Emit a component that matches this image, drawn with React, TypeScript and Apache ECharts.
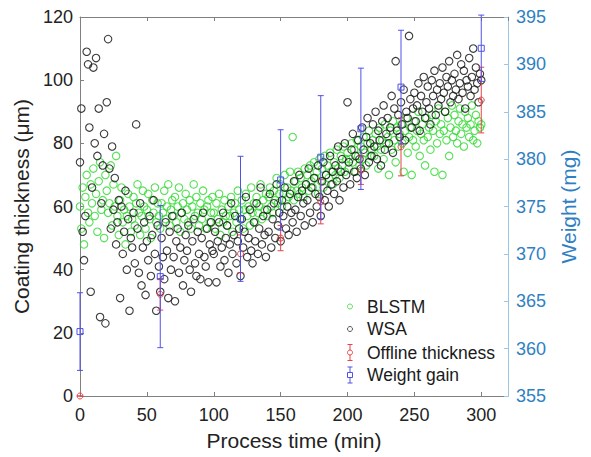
import React, { useEffect, useRef } from "react";
import * as echarts from "echarts";

// BLSTM predicted coating thickness (µm), one point per minute, t = 0..300
const blstmY: number[] = [
  60, 53, 66, 48, 63, 70, 58, 55, 67, 61,
  72, 57, 64, 52, 68, 74, 59, 62, 50, 70,
  65, 58, 61, 73, 54, 67, 60, 76, 57, 51,
  62, 66, 55, 59, 48, 57, 64, 60, 52, 56,
  63, 54, 61, 67, 58, 51, 57, 65, 60, 53,
  59, 64, 56, 50, 62, 58, 66, 55, 61, 57,
  53, 61, 58, 65, 56, 60, 67, 54, 59, 62,
  57, 63, 55, 60, 66, 52, 58, 61, 56, 64,
  59, 55, 62, 53, 60, 67, 57, 63, 58, 54,
  61, 56, 65, 59, 53, 60, 62, 55, 58, 63,
  58, 53, 61, 56, 64, 51, 59, 55, 62, 57,
  54, 60, 57, 63, 52, 58, 61, 55, 65, 59,
  56, 62, 53, 59, 64, 57, 60, 54, 66, 58,
  61, 55, 63, 58, 60, 67, 56, 62, 59, 64,
  57, 63, 66, 60, 58, 65, 62, 69, 61, 64,
  67, 60, 64, 70, 62, 66, 63, 71, 65, 82,
  62, 68, 65, 71, 64, 69, 66, 63, 72, 67,
  70, 65, 73, 68, 66, 74, 69, 71, 64, 75,
  68, 72, 66, 76, 70, 73, 69, 77, 71, 67,
  74, 70, 78, 72, 69, 76, 73, 79, 71, 75,
  77, 72, 75, 80, 74, 78, 71, 81, 76, 73,
  79, 75, 82, 77, 73, 80, 84, 76, 78, 81,
  76, 83, 79, 72, 85, 78, 81, 75, 86, 80,
  82, 70, 84, 78, 87, 81, 74, 85, 79, 83,
  86, 80, 71, 84, 88, 77, 82, 85, 70, 81,
  87, 79, 84, 90, 76, 83, 86, 81, 73, 88,
  82, 85, 78, 89, 84, 71, 87, 80, 91, 83,
  86, 70, 84, 90, 81, 88, 76, 85, 92, 82,
  89, 84, 80, 87, 91, 83, 86, 79, 90, 85,
  88, 82, 86, 92, 81, 84, 89, 80, 87, 85,
  86,
];

// WSA predicted coating thickness (µm), one point per minute, t = 0..300
const wsaY: number[] = [
  74, 91, 52, 43, 57, 109, 105, 85, 33, 66,
  104, 80, 107, 76, 91, 25, 61, 73, 83, 23,
  93, 113, 72, 53, 79, 59, 69, 48, 55, 62,
  31, 60, 45, 52, 65, 40, 56, 27, 50, 47,
  58, 42, 86, 53, 39, 61, 35, 47, 55, 32,
  49, 43, 57, 38, 51, 62, 45, 27, 54, 41,
  33, 50, 44, 37, 55, 46, 31, 52, 40, 57,
  44, 30, 49, 53, 39, 47, 58, 35, 43, 51,
  46, 54, 40, 33, 49, 56, 42, 38, 52, 45,
  37, 50, 58, 44, 41, 53, 36, 48, 55, 46,
  45, 52, 36, 49, 55, 41, 47, 58, 43, 50,
  54, 39, 48, 61, 45, 51, 57, 42, 49, 53,
  38, 56, 47, 52, 63, 44, 50, 59, 46, 42,
  55, 49, 61, 45, 53, 66, 48, 57, 51, 44,
  59, 52, 64, 47, 56, 61, 50, 67, 54, 58,
  49, 62, 57, 66, 53, 60, 51, 64, 58, 55,
  68, 59, 52, 63, 70, 57, 65, 61, 54, 67,
  62, 72, 58, 66, 55, 69, 64, 60, 73, 63,
  57, 68, 74, 62, 70, 65, 60, 76, 67, 71,
  64, 73, 68, 79, 62, 71, 75, 66, 80, 70,
  93, 74, 67, 78, 83, 71, 76, 69, 81, 75,
  72, 85, 78, 70, 82, 88, 74, 80, 76, 86,
  79, 90, 75, 84, 81, 73, 87, 92, 78, 83,
  88, 80, 85, 95, 77, 91, 106, 84, 89, 82,
  93, 86, 97, 81, 90, 88, 114, 94, 85, 91,
  96, 87, 92, 99, 84, 95, 90, 101, 88, 93,
  98, 91, 86, 100, 95, 103, 89, 97, 92, 99,
  94, 104, 96, 90, 101, 98, 106, 93, 100, 95,
  102, 97, 108, 94, 99, 105, 96, 103, 91, 100,
  98, 107, 95, 101, 110, 97, 104, 99, 93, 102,
  100,
];

// Offline thickness measurements: time (min), mean (µm), error (µm)
const offlineTime: number[] = [0, 60, 120, 150, 180, 210, 240, 300];
const offlineMean: number[] = [0, 32.2, 45.0, 50.0, 61.5, 71.5, 78.9, 93.7];
const offlineErr: number[] = [0, 5.0, 6.0, 4.0, 7.0, 4.5, 9.2, 10.4];

// Weight gain: time (min), mean (mg), error (mg)
const weightTime: number[] = [0, 60, 120, 150, 180, 210, 240, 300];
const weightMean: number[] = [361.8, 367.6, 373.7, 377.8, 380.2, 383.2, 387.6, 391.7];
const weightErr: number[] = [4.1, 7.5, 6.6, 5.3, 6.5, 6.4, 6.0, 3.5];

const GREEN = "#2ed82e";
const BLACK = "#1a1a1a";
const RED = "#e8434b";
const BLUE = "#5050ee";
const RIGHT_BLUE = "#2f80c3";
const FONT = "'Liberation Sans', Arial, Helvetica, sans-serif";

function errRender(color: string, marker: "circle" | "square") {
  return (params: any, api: any) => {
    const x = api.value(0);
    const y = api.value(1);
    const e = api.value(2);
    const c = api.coord([x, y]);
    const t = api.coord([x, y + e]);
    const b = api.coord([x, y - e]);
    const cap = 3;
    const st = { stroke: color, lineWidth: 1, fill: "none" };
    const children: any[] = [
      { type: "line", shape: { x1: c[0], y1: t[1], x2: c[0], y2: b[1] }, style: st },
      { type: "line", shape: { x1: c[0] - cap, y1: t[1], x2: c[0] + cap, y2: t[1] }, style: st },
      { type: "line", shape: { x1: c[0] - cap, y1: b[1], x2: c[0] + cap, y2: b[1] }, style: st },
    ];
    if (marker === "circle") {
      children.push({ type: "circle", shape: { cx: c[0], cy: c[1], r: 3 }, style: st });
    } else {
      children.push({ type: "rect", shape: { x: c[0] - 3, y: c[1] - 3, width: 6, height: 6 }, style: st });
    }
    return { type: "group", children };
  };
}

function legendErrIcon(color: string, cx: number, cy: number, marker: "circle" | "square") {
  const st = { stroke: color, lineWidth: 1, fill: "none" };
  const h = 8;
  const els: any[] = [
    { type: "line", shape: { x1: cx, y1: cy - h, x2: cx, y2: cy + h }, style: st },
    { type: "line", shape: { x1: cx - 2.5, y1: cy - h, x2: cx + 2.5, y2: cy - h }, style: st },
    { type: "line", shape: { x1: cx - 2.5, y1: cy + h, x2: cx + 2.5, y2: cy + h }, style: st },
  ];
  if (marker === "circle") {
    els.push({ type: "circle", shape: { cx, cy, r: 2.5 }, style: { ...st, fill: "#fff" } });
  } else {
    els.push({ type: "rect", shape: { x: cx - 2.5, y: cy - 2.5, width: 5, height: 5 }, style: { ...st, fill: "#fff" } });
  }
  return els;
}

export default function App() {
  const ref = useRef<HTMLDivElement>(null);

  useEffect(() => {
    if (!ref.current) return;
    const chart = echarts.init(ref.current, undefined, { renderer: "svg" });

    const blstmData = blstmY.map((v, i) => [i, v]);
    const wsaData = wsaY.map((v, i) => [i, v]);
    const offlineData = offlineTime.map((t, i) => [t, offlineMean[i], offlineErr[i]]);
    const weightData = weightTime.map((t, i) => [t, weightMean[i], weightErr[i]]);

    const legendX = 350;
    const textX = 367;
    const rows = [306.5, 329, 352.5, 375];
    const legendFont = { fontSize: 17.5, fontFamily: FONT, fill: "#1a1a1a" };

    const option: any = {
      animation: false,
      backgroundColor: "#ffffff",
      grid: { left: 80, right: 83, top: 17, bottom: 61, containLabel: false },
      xAxis: [
        {
          type: "value",
          min: 0,
          max: 320,
          interval: 50,
          position: "bottom",
          name: "Process time (min)",
          nameLocation: "middle",
          nameGap: 34,
          nameTextStyle: { fontSize: 21, fontFamily: FONT, color: "#222" },
          axisLine: { show: true, onZero: false, lineStyle: { color: "#808080", width: 1 } },
          axisTick: { show: true, inside: true, length: 4, lineStyle: { color: "#808080" } },
          axisLabel: { fontSize: 18, fontFamily: FONT, color: "#222", margin: 10, showMaxLabel: false },
          splitLine: { show: false },
        },
        {
          type: "value",
          min: 0,
          max: 320,
          interval: 50,
          position: "top",
          axisLine: { show: true, onZero: false, lineStyle: { color: "#808080", width: 1 } },
          axisTick: { show: true, inside: true, length: 4, lineStyle: { color: "#808080" } },
          axisLabel: { show: false },
          splitLine: { show: false },
        },
      ],
      yAxis: [
        {
          type: "value",
          min: 0,
          max: 120,
          interval: 20,
          position: "left",
          name: "Coating thickness (\u03bcm)",
          nameLocation: "middle",
          nameGap: 45,
          nameTextStyle: { fontSize: 21, fontFamily: FONT, color: "#222" },
          axisLine: { show: true, onZero: false, lineStyle: { color: "#808080", width: 1 } },
          axisTick: { show: true, inside: true, length: 4, lineStyle: { color: "#808080" } },
          axisLabel: { fontSize: 18, fontFamily: FONT, color: "#222", margin: 7 },
          splitLine: { show: false },
        },
        {
          type: "value",
          min: 355,
          max: 395,
          interval: 5,
          position: "right",
          name: "Weight (mg)",
          nameLocation: "middle",
          nameGap: 50,
          nameRotate: 90,
          nameTextStyle: { fontSize: 21, fontFamily: FONT, color: RIGHT_BLUE },
          axisLine: { show: true, onZero: false, lineStyle: { color: "#9cc6e6", width: 1 } },
          axisTick: { show: true, inside: true, length: 4, lineStyle: { color: "#9cc6e6" } },
          axisLabel: { fontSize: 18, fontFamily: FONT, color: RIGHT_BLUE, margin: 8 },
          splitLine: { show: false },
        },
      ],
      series: [
        {
          name: "BLSTM",
          type: "scatter",
          xAxisIndex: 0,
          yAxisIndex: 0,
          symbol: "circle",
          symbolSize: 7.5,
          data: blstmData,
          itemStyle: { color: "transparent", borderColor: GREEN, borderWidth: 1.1, opacity: 0.8 },
          emphasis: { disabled: true },
        },
        {
          name: "WSA",
          type: "scatter",
          xAxisIndex: 0,
          yAxisIndex: 0,
          symbol: "circle",
          symbolSize: 7.5,
          data: wsaData,
          itemStyle: { color: "transparent", borderColor: BLACK, borderWidth: 1.1, opacity: 0.85 },
          emphasis: { disabled: true },
        },
        {
          name: "Offline thickness",
          type: "custom",
          xAxisIndex: 0,
          yAxisIndex: 0,
          clip: false,
          renderItem: errRender(RED, "circle"),
          encode: { x: 0, y: 1 },
          data: offlineData,
          z: 5,
        },
        {
          name: "Weight gain",
          type: "custom",
          xAxisIndex: 0,
          yAxisIndex: 1,
          clip: false,
          renderItem: errRender(BLUE, "square"),
          encode: { x: 0, y: 1 },
          data: weightData,
          z: 6,
        },
      ],
      graphic: [
        { type: "circle", shape: { cx: legendX, cy: rows[0], r: 2.5 }, style: { fill: "none", stroke: GREEN, lineWidth: 1, opacity: 0.8 }, z: 100 },
        { type: "text", x: textX, y: rows[0], style: { text: "BLSTM", textVerticalAlign: "middle", ...legendFont }, z: 100 },
        { type: "circle", shape: { cx: legendX, cy: rows[1], r: 2.5 }, style: { fill: "none", stroke: "#555", lineWidth: 1 }, z: 100 },
        { type: "text", x: textX, y: rows[1], style: { text: "WSA", textVerticalAlign: "middle", ...legendFont }, z: 100 },
        ...legendErrIcon(RED, legendX, rows[2], "circle").map((e) => ({ ...e, z: 100 })),
        { type: "text", x: textX, y: rows[2], style: { text: "Offline thickness", textVerticalAlign: "middle", ...legendFont }, z: 100 },
        ...legendErrIcon(BLUE, legendX, rows[3], "square").map((e) => ({ ...e, z: 100 })),
        { type: "text", x: textX, y: rows[3], style: { text: "Weight gain", textVerticalAlign: "middle", ...legendFont }, z: 100 },
      ],
    };

    chart.setOption(option);
    return () => {
      chart.dispose();
    };
  }, []);

  return (
    <div
      ref={ref}
      style={{ position: "fixed", left: 0, top: 0, width: 591, height: 457, background: "#fff" }}
    />
  );
}
